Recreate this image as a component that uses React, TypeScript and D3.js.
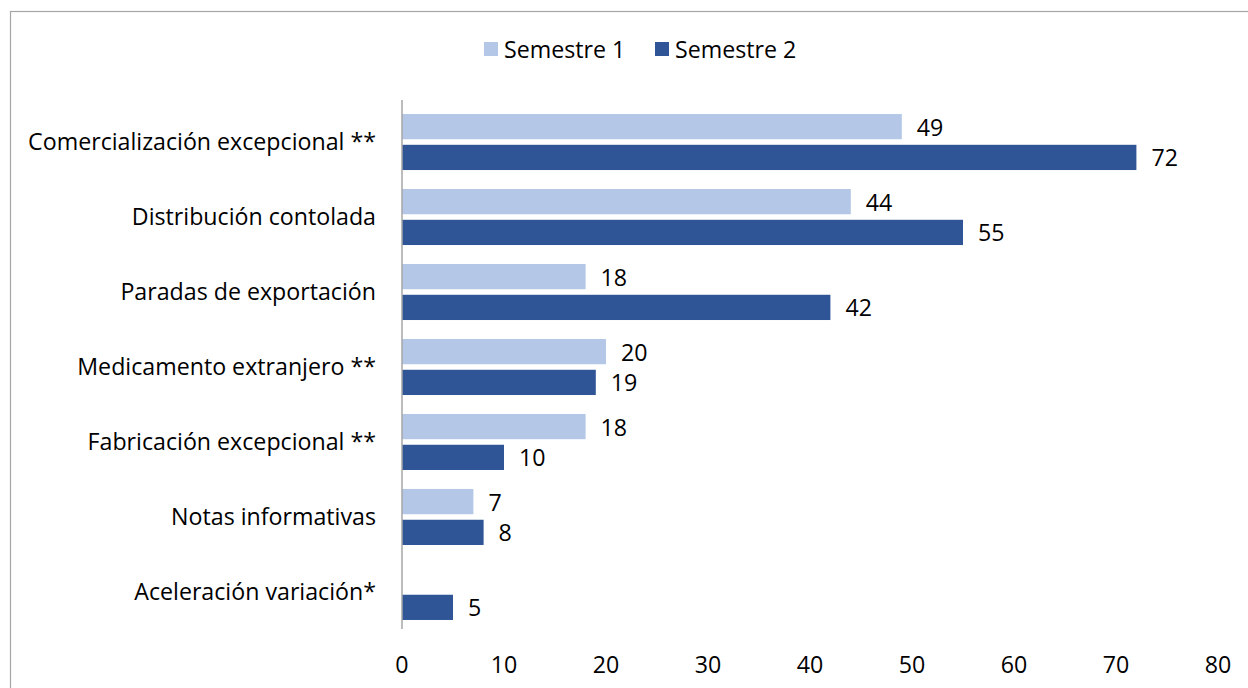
import React from "react";
import * as d3 from "d3";

const categories = [
  "Comercialización excepcional **",
  "Distribución contolada",
  "Paradas de exportación",
  "Medicamento extranjero **",
  "Fabricación excepcional **",
  "Notas informativas",
  "Aceleración variación*",
];
const seriesNames = ["Semestre 1", "Semestre 2"];
const semestre1: (number | null)[] = [49, 44, 18, 20, 18, 7, null];
const semestre2: (number | null)[] = [72, 55, 42, 19, 10, 8, 5];
const xTicks = [0, 10, 20, 30, 40, 50, 60, 70, 80];
const colors = ["#b4c7e7", "#2f5597"];

const W = 1248;
const H = 688;
const FONT = "'Open Sans', sans-serif";
const FS = 23.2;

export default function App() {
  const x = d3.scaleLinear().domain([0, 80]).range([402, 1218]);
  const y0 = d3
    .scaleBand<string>()
    .domain(categories)
    .range([104.5, 629.5])
    .paddingInner(0.253)
    .paddingOuter(0.127);
  const y1 = d3
    .scaleBand<string>()
    .domain(seriesNames)
    .range([0, y0.bandwidth()])
    .paddingInner(0.18);
  const data = [semestre1, semestre2];

  return (
    <svg
      width={W}
      height={H}
      style={{ position: "absolute", left: 0, top: 0, fontFamily: FONT }}
    >
      <rect x={0} y={0} width={W} height={H} fill="#fff" />
      <rect
        x={10.5}
        y={11.5}
        width={W + 20}
        height={H + 20}
        fill="none"
        stroke="#a6a6a6"
        strokeWidth={1.2}
      />
      {/* legend */}
      {seriesNames.map((s, i) => {
        const lx = i === 0 ? 484 : 655;
        return (
          <g key={s}>
            <rect x={lx} y={42} width={14} height={14} fill={colors[i]} />
            <text x={lx + 20} y={58} fontSize={FS} fill="#000">
              {s}
            </text>
          </g>
        );
      })}
      {/* bars */}
      {categories.map((c, ci) => (
        <g key={c} transform={`translate(0,${y0(c)})`}>
          {seriesNames.map((s, si) => {
            const v = data[si][ci];
            if (v == null) return null;
            const by = y1(s)!;
            return (
              <g key={s}>
                <rect
                  x={x(0)}
                  y={by}
                  width={x(v) - x(0)}
                  height={y1.bandwidth()}
                  fill={colors[si]}
                />
                <text
                  x={x(v) + 15}
                  y={by + y1.bandwidth() / 2 + 9}
                  fontSize={FS}
                  fill="#000"
                >
                  {v}
                </text>
              </g>
            );
          })}
        </g>
      ))}
      {/* category labels */}
      {categories.map((c) => (
        <text
          key={c}
          x={376}
          y={y0(c)! + y0.bandwidth() / 2 + 8}
          textAnchor="end"
          fontSize={FS}
          fill="#000"
        >
          {c}
        </text>
      ))}
      {/* axis line */}
      <line
        x1={x(0)}
        x2={x(0)}
        y1={100}
        y2={629}
        stroke="#a6a6a6"
        strokeWidth={1.5}
      />
      {/* x tick labels */}
      {xTicks.map((t) => (
        <text
          key={t}
          x={x(t)}
          y={673}
          textAnchor="middle"
          fontSize={FS}
          fill="#000"
        >
          {t}
        </text>
      ))}
    </svg>
  );
}
